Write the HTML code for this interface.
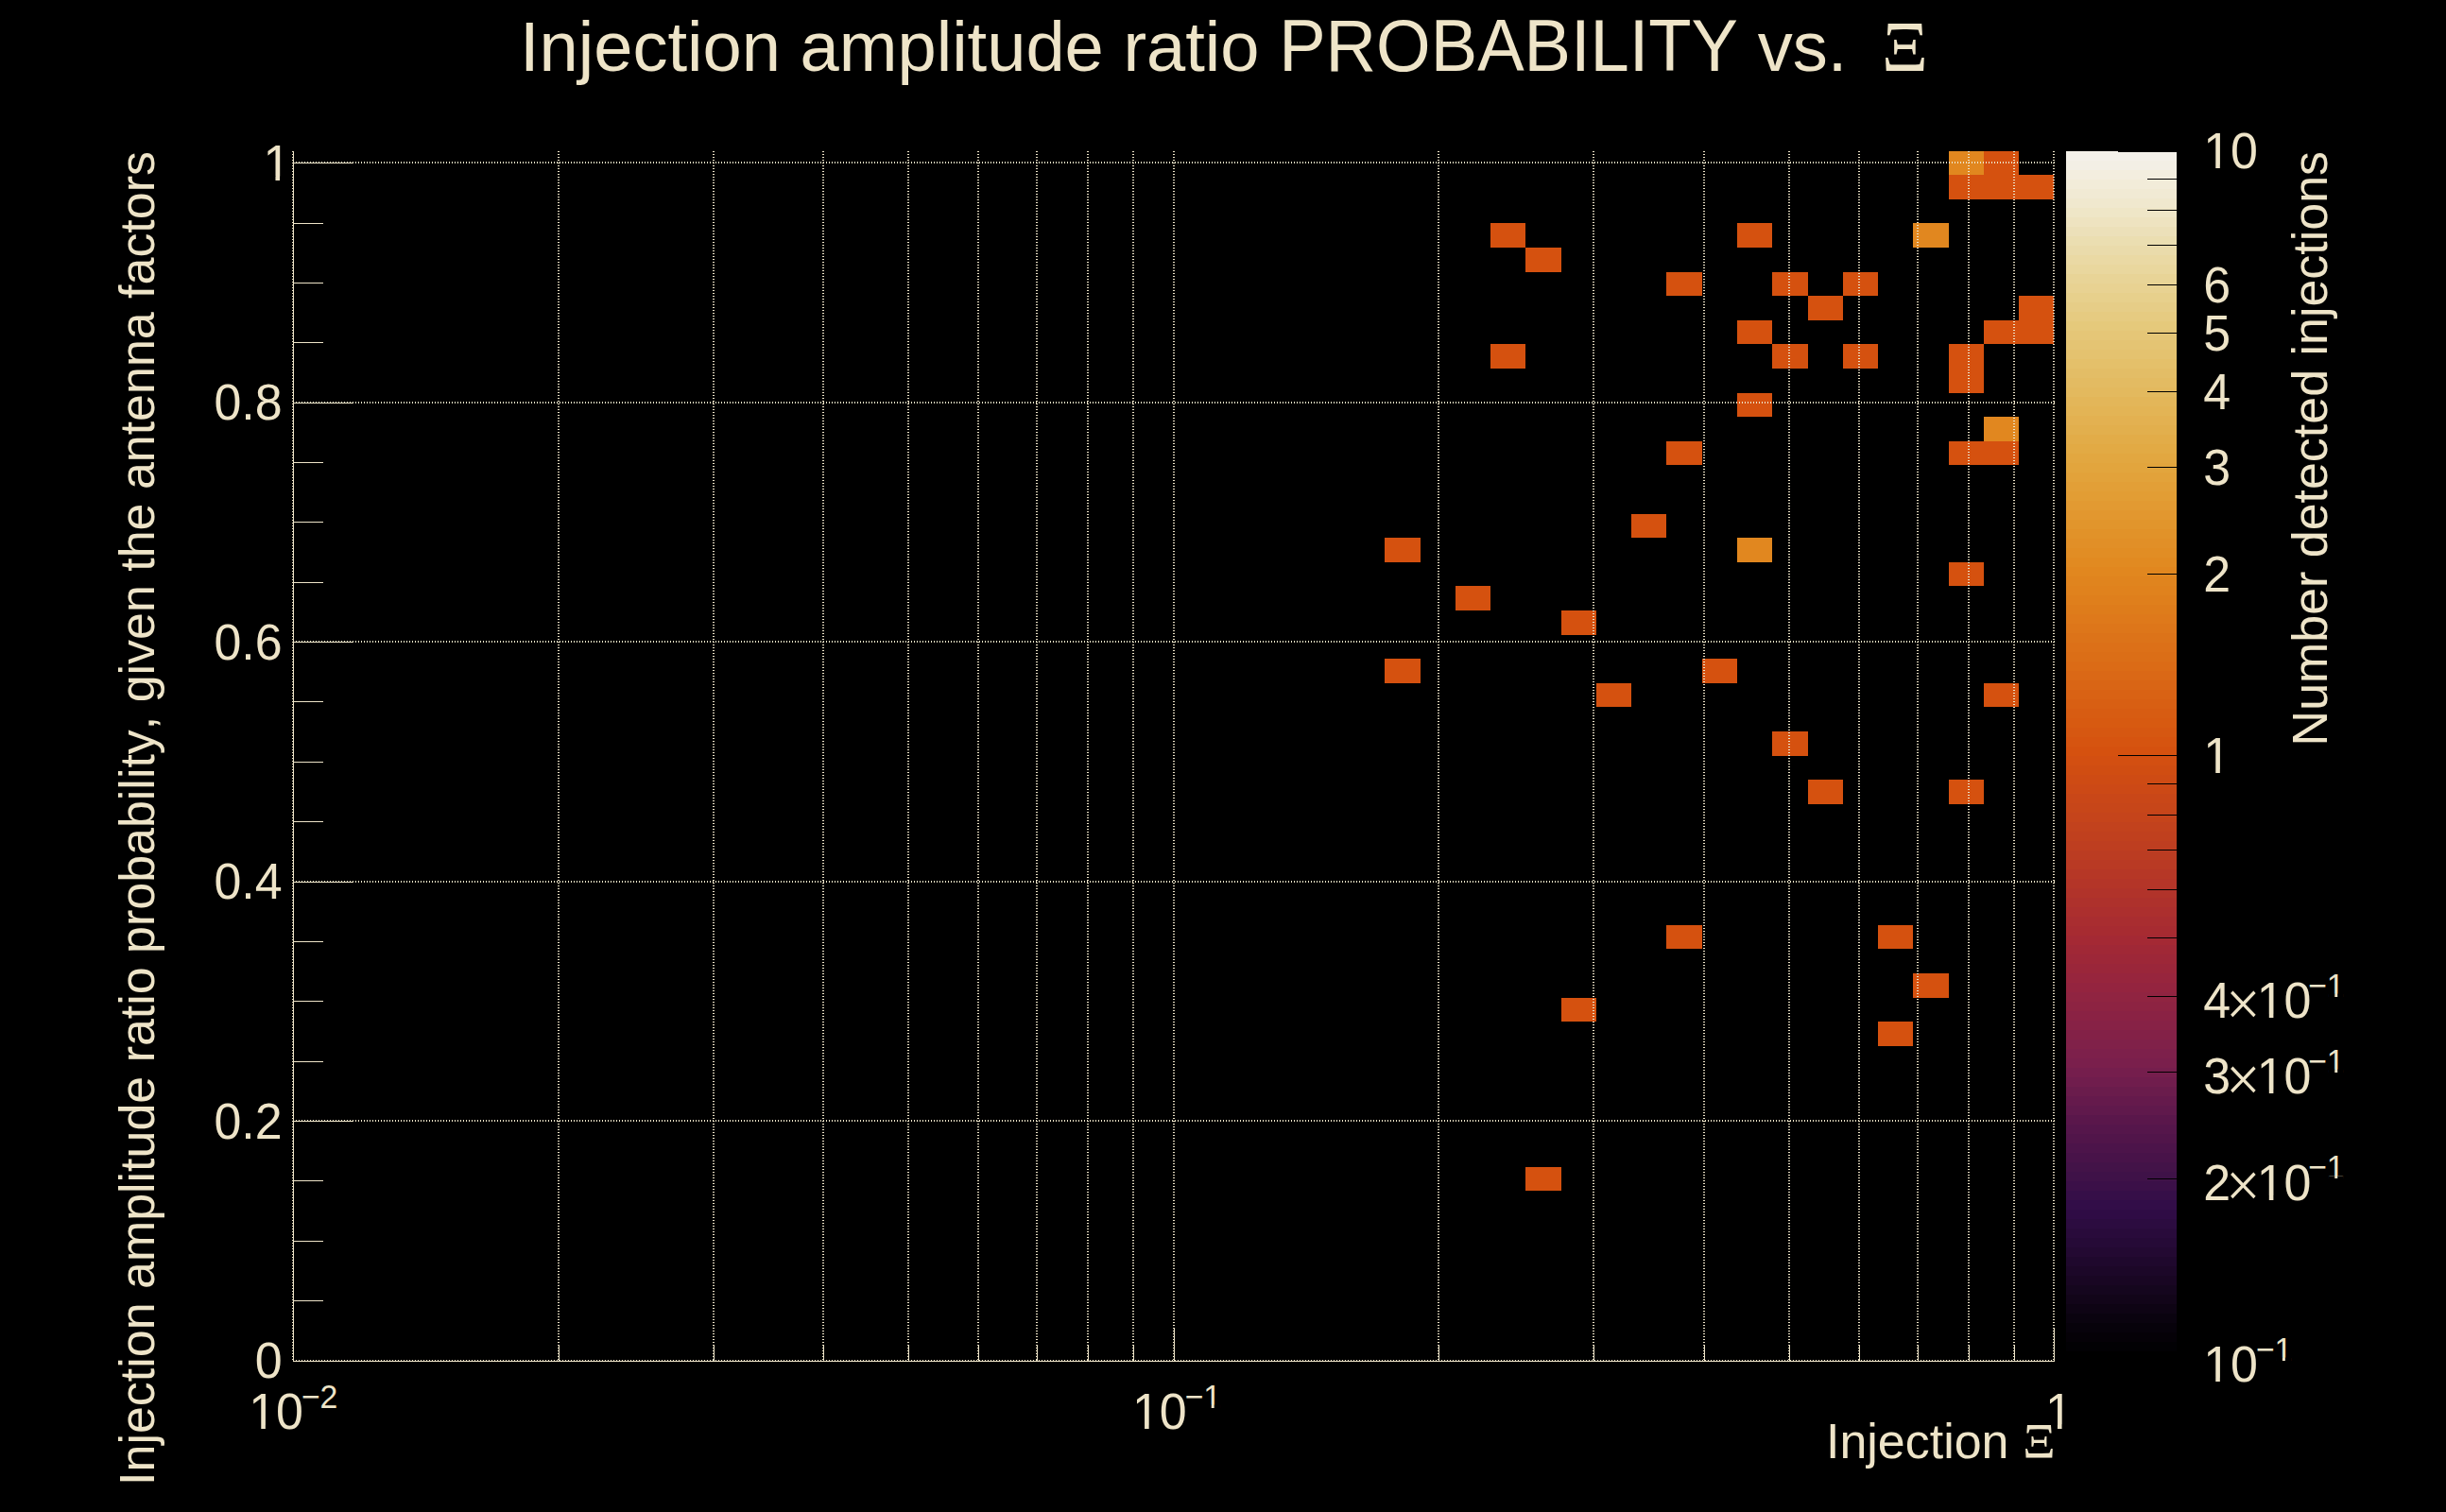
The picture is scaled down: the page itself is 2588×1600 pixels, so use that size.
<!DOCTYPE html>
<html><head><meta charset="utf-8"><title>Injection amplitude ratio PROBABILITY vs. Xi</title>
<style>
html,body{margin:0;padding:0;background:#000;}
body{width:2588px;height:1600px;overflow:hidden;}
svg{display:block;}
text{font-family:"Liberation Sans",sans-serif;fill:#EEE4C8;font-kerning:none;white-space:pre;}
.sym{font-family:"Liberation Serif",serif;}
.g{stroke:#EEE4C8;stroke-width:2;stroke-dasharray:1 2;fill:none;}
.a{stroke:#EEE4C8;stroke-width:1;fill:none;}
.k{stroke:#000;stroke-width:1;fill:none;}
</style></head><body>
<svg width="2588" height="1600" viewBox="0 0 2588 1600">
<rect width="2588" height="1600" fill="#000"/>
<g shape-rendering="crispEdges">
<rect x="2099" y="160" width="37" height="25" fill="#d5510f"/>
<rect x="2062" y="185" width="37" height="26" fill="#d5510f"/>
<rect x="2099" y="185" width="37" height="26" fill="#d5510f"/>
<rect x="2136" y="185" width="37" height="26" fill="#d5510f"/>
<rect x="1577" y="236" width="37" height="26" fill="#d5510f"/>
<rect x="1838" y="236" width="37" height="26" fill="#d5510f"/>
<rect x="1614" y="262" width="38" height="26" fill="#d5510f"/>
<rect x="1763" y="288" width="38" height="25" fill="#d5510f"/>
<rect x="1875" y="288" width="38" height="25" fill="#d5510f"/>
<rect x="1950" y="288" width="37" height="25" fill="#d5510f"/>
<rect x="1913" y="313" width="37" height="26" fill="#d5510f"/>
<rect x="2136" y="313" width="37" height="26" fill="#d5510f"/>
<rect x="2136" y="339" width="37" height="25" fill="#d5510f"/>
<rect x="1838" y="339" width="37" height="25" fill="#d5510f"/>
<rect x="2099" y="339" width="37" height="25" fill="#d5510f"/>
<rect x="1577" y="364" width="37" height="26" fill="#d5510f"/>
<rect x="1875" y="364" width="38" height="26" fill="#d5510f"/>
<rect x="1950" y="364" width="37" height="26" fill="#d5510f"/>
<rect x="2062" y="364" width="37" height="26" fill="#d5510f"/>
<rect x="2062" y="390" width="37" height="26" fill="#d5510f"/>
<rect x="1838" y="416" width="37" height="25" fill="#d5510f"/>
<rect x="1763" y="467" width="38" height="25" fill="#d5510f"/>
<rect x="2062" y="467" width="37" height="25" fill="#d5510f"/>
<rect x="2099" y="467" width="37" height="25" fill="#d5510f"/>
<rect x="1726" y="544" width="37" height="25" fill="#d5510f"/>
<rect x="1465" y="569" width="38" height="26" fill="#d5510f"/>
<rect x="2062" y="595" width="37" height="25" fill="#d5510f"/>
<rect x="1540" y="620" width="37" height="26" fill="#d5510f"/>
<rect x="1652" y="646" width="37" height="26" fill="#d5510f"/>
<rect x="1465" y="697" width="38" height="26" fill="#d5510f"/>
<rect x="1801" y="697" width="37" height="26" fill="#d5510f"/>
<rect x="1689" y="723" width="37" height="25" fill="#d5510f"/>
<rect x="2099" y="723" width="37" height="25" fill="#d5510f"/>
<rect x="1875" y="774" width="38" height="26" fill="#d5510f"/>
<rect x="1913" y="825" width="37" height="26" fill="#d5510f"/>
<rect x="2062" y="825" width="37" height="26" fill="#d5510f"/>
<rect x="1763" y="979" width="38" height="25" fill="#d5510f"/>
<rect x="1987" y="979" width="37" height="25" fill="#d5510f"/>
<rect x="2024" y="1030" width="38" height="26" fill="#d5510f"/>
<rect x="1652" y="1056" width="37" height="25" fill="#d5510f"/>
<rect x="1987" y="1081" width="37" height="26" fill="#d5510f"/>
<rect x="1614" y="1235" width="38" height="25" fill="#d5510f"/>
<rect x="2062" y="160" width="37" height="25" fill="#e1871f"/>
<rect x="2024" y="236" width="38" height="26" fill="#e1871f"/>
<rect x="2099" y="441" width="37" height="26" fill="#e1871f"/>
<rect x="1838" y="569" width="37" height="26" fill="#e1871f"/>
</g>
<g class="g" shape-rendering="crispEdges">
<line x1="310" y1="160" x2="310" y2="1440"/>
<line x1="591" y1="160" x2="591" y2="1440"/>
<line x1="755" y1="160" x2="755" y2="1440"/>
<line x1="871" y1="160" x2="871" y2="1440"/>
<line x1="961" y1="160" x2="961" y2="1440"/>
<line x1="1035" y1="160" x2="1035" y2="1440"/>
<line x1="1097" y1="160" x2="1097" y2="1440"/>
<line x1="1151" y1="160" x2="1151" y2="1440"/>
<line x1="1199" y1="160" x2="1199" y2="1440"/>
<line x1="1242" y1="160" x2="1242" y2="1440"/>
<line x1="1522" y1="160" x2="1522" y2="1440"/>
<line x1="1686" y1="160" x2="1686" y2="1440"/>
<line x1="1803" y1="160" x2="1803" y2="1440"/>
<line x1="1893" y1="160" x2="1893" y2="1440"/>
<line x1="1967" y1="160" x2="1967" y2="1440"/>
<line x1="2029" y1="160" x2="2029" y2="1440"/>
<line x1="2083" y1="160" x2="2083" y2="1440"/>
<line x1="2131" y1="160" x2="2131" y2="1440"/>
<line x1="2173" y1="160" x2="2173" y2="1440"/>
<line x1="310" y1="1440" x2="2174" y2="1440"/>
<line x1="310" y1="1186" x2="2174" y2="1186"/>
<line x1="310" y1="933" x2="2174" y2="933"/>
<line x1="310" y1="679" x2="2174" y2="679"/>
<line x1="310" y1="426" x2="2174" y2="426"/>
<line x1="310" y1="172" x2="2174" y2="172"/>
</g>
<g class="a" shape-rendering="crispEdges">
<line x1="310.5" y1="160" x2="310.5" y2="1441.0"/>
<line x1="310.0" y1="1440.5" x2="2174" y2="1440.5"/>
<line x1="310.5" y1="1376.5" x2="341.5" y2="1376.5"/>
<line x1="310.5" y1="1313.5" x2="341.5" y2="1313.5"/>
<line x1="310.5" y1="1249.5" x2="341.5" y2="1249.5"/>
<line x1="310.5" y1="1186.5" x2="373.5" y2="1186.5"/>
<line x1="310.5" y1="1123.5" x2="341.5" y2="1123.5"/>
<line x1="310.5" y1="1059.5" x2="341.5" y2="1059.5"/>
<line x1="310.5" y1="996.5" x2="341.5" y2="996.5"/>
<line x1="310.5" y1="933.5" x2="373.5" y2="933.5"/>
<line x1="310.5" y1="869.5" x2="341.5" y2="869.5"/>
<line x1="310.5" y1="806.5" x2="341.5" y2="806.5"/>
<line x1="310.5" y1="742.5" x2="341.5" y2="742.5"/>
<line x1="310.5" y1="679.5" x2="373.5" y2="679.5"/>
<line x1="310.5" y1="616.5" x2="341.5" y2="616.5"/>
<line x1="310.5" y1="552.5" x2="341.5" y2="552.5"/>
<line x1="310.5" y1="489.5" x2="341.5" y2="489.5"/>
<line x1="310.5" y1="426.5" x2="373.5" y2="426.5"/>
<line x1="310.5" y1="362.5" x2="341.5" y2="362.5"/>
<line x1="310.5" y1="299.5" x2="341.5" y2="299.5"/>
<line x1="310.5" y1="236.5" x2="341.5" y2="236.5"/>
<line x1="310.5" y1="172.5" x2="373.5" y2="172.5"/>
<line x1="591.5" y1="1440.5" x2="591.5" y2="1422.5"/>
<line x1="755.5" y1="1440.5" x2="755.5" y2="1422.5"/>
<line x1="871.5" y1="1440.5" x2="871.5" y2="1422.5"/>
<line x1="961.5" y1="1440.5" x2="961.5" y2="1422.5"/>
<line x1="1035.5" y1="1440.5" x2="1035.5" y2="1422.5"/>
<line x1="1097.5" y1="1440.5" x2="1097.5" y2="1422.5"/>
<line x1="1151.5" y1="1440.5" x2="1151.5" y2="1422.5"/>
<line x1="1199.5" y1="1440.5" x2="1199.5" y2="1422.5"/>
<line x1="1242.5" y1="1440.5" x2="1242.5" y2="1405.5"/>
<line x1="1522.5" y1="1440.5" x2="1522.5" y2="1422.5"/>
<line x1="1686.5" y1="1440.5" x2="1686.5" y2="1422.5"/>
<line x1="1803.5" y1="1440.5" x2="1803.5" y2="1422.5"/>
<line x1="1893.5" y1="1440.5" x2="1893.5" y2="1422.5"/>
<line x1="1967.5" y1="1440.5" x2="1967.5" y2="1422.5"/>
<line x1="2029.5" y1="1440.5" x2="2029.5" y2="1422.5"/>
<line x1="2083.5" y1="1440.5" x2="2083.5" y2="1422.5"/>
<line x1="2131.5" y1="1440.5" x2="2131.5" y2="1422.5"/>
<line x1="2173.5" y1="1440.5" x2="2173.5" y2="1405.5"/>
</g>
<g shape-rendering="crispEdges">
<rect x="2186" y="1430" width="117" height="10" fill="#000000"/>
<rect x="2186" y="1420" width="117" height="10" fill="#020104"/>
<rect x="2186" y="1410" width="117" height="10" fill="#050107"/>
<rect x="2186" y="1400" width="117" height="10" fill="#07020b"/>
<rect x="2186" y="1390" width="117" height="10" fill="#0a030f"/>
<rect x="2186" y="1380" width="117" height="10" fill="#0e0414"/>
<rect x="2186" y="1370" width="117" height="10" fill="#120519"/>
<rect x="2186" y="1360" width="117" height="10" fill="#15061e"/>
<rect x="2186" y="1350" width="117" height="10" fill="#190623"/>
<rect x="2186" y="1340" width="117" height="10" fill="#1c0728"/>
<rect x="2186" y="1330" width="117" height="10" fill="#1f082d"/>
<rect x="2186" y="1320" width="117" height="10" fill="#230932"/>
<rect x="2186" y="1310" width="117" height="10" fill="#260a37"/>
<rect x="2186" y="1300" width="117" height="10" fill="#290b3b"/>
<rect x="2186" y="1290" width="117" height="10" fill="#2c0c40"/>
<rect x="2186" y="1280" width="117" height="10" fill="#2f0c45"/>
<rect x="2186" y="1270" width="117" height="10" fill="#320d48"/>
<rect x="2186" y="1260" width="117" height="10" fill="#360f48"/>
<rect x="2186" y="1250" width="117" height="10" fill="#3b1048"/>
<rect x="2186" y="1240" width="117" height="10" fill="#3f1248"/>
<rect x="2186" y="1230" width="117" height="10" fill="#431348"/>
<rect x="2186" y="1220" width="117" height="10" fill="#481349"/>
<rect x="2186" y="1210" width="117" height="10" fill="#4c144a"/>
<rect x="2186" y="1200" width="117" height="10" fill="#51154a"/>
<rect x="2186" y="1190" width="117" height="10" fill="#55164b"/>
<rect x="2186" y="1180" width="117" height="10" fill="#5a174b"/>
<rect x="2186" y="1170" width="117" height="10" fill="#60194c"/>
<rect x="2186" y="1160" width="117" height="10" fill="#651a4c"/>
<rect x="2186" y="1150" width="117" height="10" fill="#6a1c4c"/>
<rect x="2186" y="1140" width="117" height="10" fill="#701d4d"/>
<rect x="2186" y="1130" width="117" height="10" fill="#751e4d"/>
<rect x="2186" y="1120" width="117" height="10" fill="#7a1f4c"/>
<rect x="2186" y="1110" width="117" height="10" fill="#7d204b"/>
<rect x="2186" y="1100" width="117" height="10" fill="#802149"/>
<rect x="2186" y="1090" width="117" height="10" fill="#832147"/>
<rect x="2186" y="1080" width="117" height="10" fill="#872246"/>
<rect x="2186" y="1070" width="117" height="10" fill="#8a2244"/>
<rect x="2186" y="1060" width="117" height="10" fill="#8d2342"/>
<rect x="2186" y="1050" width="117" height="10" fill="#902441"/>
<rect x="2186" y="1040" width="117" height="10" fill="#94243f"/>
<rect x="2186" y="1030" width="117" height="10" fill="#97253d"/>
<rect x="2186" y="1020" width="117" height="10" fill="#9a263a"/>
<rect x="2186" y="1010" width="117" height="10" fill="#9d2738"/>
<rect x="2186" y="1000" width="117" height="10" fill="#a02836"/>
<rect x="2186" y="990" width="117" height="10" fill="#a42934"/>
<rect x="2186" y="980" width="117" height="10" fill="#a72b31"/>
<rect x="2186" y="970" width="117" height="10" fill="#a92d30"/>
<rect x="2186" y="960" width="117" height="10" fill="#ac2f2e"/>
<rect x="2186" y="950" width="117" height="10" fill="#ae312c"/>
<rect x="2186" y="940" width="117" height="10" fill="#b1332a"/>
<rect x="2186" y="930" width="117" height="10" fill="#b43528"/>
<rect x="2186" y="920" width="117" height="10" fill="#b63726"/>
<rect x="2186" y="910" width="117" height="10" fill="#b93a24"/>
<rect x="2186" y="900" width="117" height="10" fill="#bb3c22"/>
<rect x="2186" y="890" width="117" height="10" fill="#be3e20"/>
<rect x="2186" y="880" width="117" height="10" fill="#c0401e"/>
<rect x="2186" y="870" width="117" height="10" fill="#c2421d"/>
<rect x="2186" y="860" width="117" height="10" fill="#c5441b"/>
<rect x="2186" y="850" width="117" height="10" fill="#c74619"/>
<rect x="2186" y="840" width="117" height="10" fill="#c94718"/>
<rect x="2186" y="830" width="117" height="10" fill="#cc4916"/>
<rect x="2186" y="820" width="117" height="10" fill="#ce4b14"/>
<rect x="2186" y="810" width="117" height="10" fill="#d04d12"/>
<rect x="2186" y="800" width="117" height="10" fill="#d34f11"/>
<rect x="2186" y="790" width="117" height="10" fill="#d5510f"/>
<rect x="2186" y="780" width="117" height="10" fill="#d65410"/>
<rect x="2186" y="770" width="117" height="10" fill="#d65711"/>
<rect x="2186" y="760" width="117" height="10" fill="#d75a11"/>
<rect x="2186" y="750" width="117" height="10" fill="#d75c12"/>
<rect x="2186" y="740" width="117" height="10" fill="#d85f13"/>
<rect x="2186" y="730" width="117" height="10" fill="#d96214"/>
<rect x="2186" y="720" width="117" height="10" fill="#d96515"/>
<rect x="2186" y="710" width="117" height="10" fill="#da6816"/>
<rect x="2186" y="700" width="117" height="10" fill="#db6b16"/>
<rect x="2186" y="690" width="117" height="10" fill="#db6e17"/>
<rect x="2186" y="680" width="117" height="10" fill="#dc7018"/>
<rect x="2186" y="670" width="117" height="10" fill="#dc7319"/>
<rect x="2186" y="660" width="117" height="10" fill="#dd761a"/>
<rect x="2186" y="650" width="117" height="10" fill="#de791b"/>
<rect x="2186" y="640" width="117" height="10" fill="#de7c1b"/>
<rect x="2186" y="630" width="117" height="10" fill="#df7f1c"/>
<rect x="2186" y="620" width="117" height="10" fill="#e0821d"/>
<rect x="2186" y="610" width="117" height="10" fill="#e0841e"/>
<rect x="2186" y="600" width="117" height="10" fill="#e1871f"/>
<rect x="2186" y="590" width="117" height="10" fill="#e18a21"/>
<rect x="2186" y="580" width="117" height="10" fill="#e18d24"/>
<rect x="2186" y="570" width="117" height="10" fill="#e18f27"/>
<rect x="2186" y="560" width="117" height="10" fill="#e19229"/>
<rect x="2186" y="550" width="117" height="10" fill="#e1952c"/>
<rect x="2186" y="540" width="117" height="10" fill="#e2972f"/>
<rect x="2186" y="530" width="117" height="10" fill="#e29a32"/>
<rect x="2186" y="520" width="117" height="10" fill="#e29d34"/>
<rect x="2186" y="510" width="117" height="10" fill="#e29f37"/>
<rect x="2186" y="500" width="117" height="10" fill="#e2a23a"/>
<rect x="2186" y="490" width="117" height="10" fill="#e2a53d"/>
<rect x="2186" y="480" width="117" height="10" fill="#e2a740"/>
<rect x="2186" y="470" width="117" height="10" fill="#e2aa44"/>
<rect x="2186" y="460" width="117" height="10" fill="#e2ac48"/>
<rect x="2186" y="450" width="117" height="10" fill="#e2af4d"/>
<rect x="2186" y="440" width="117" height="10" fill="#e3b151"/>
<rect x="2186" y="430" width="117" height="10" fill="#e3b455"/>
<rect x="2186" y="420" width="117" height="10" fill="#e3b659"/>
<rect x="2186" y="410" width="117" height="10" fill="#e3b95e"/>
<rect x="2186" y="400" width="117" height="10" fill="#e3bb62"/>
<rect x="2186" y="390" width="117" height="10" fill="#e3bd66"/>
<rect x="2186" y="380" width="117" height="10" fill="#e4c06a"/>
<rect x="2186" y="370" width="117" height="10" fill="#e4c26f"/>
<rect x="2186" y="360" width="117" height="10" fill="#e4c473"/>
<rect x="2186" y="350" width="117" height="10" fill="#e5c677"/>
<rect x="2186" y="340" width="117" height="10" fill="#e5c97b"/>
<rect x="2186" y="330" width="117" height="10" fill="#e6cb81"/>
<rect x="2186" y="320" width="117" height="10" fill="#e6cd87"/>
<rect x="2186" y="310" width="117" height="10" fill="#e7d08c"/>
<rect x="2186" y="300" width="117" height="10" fill="#e8d292"/>
<rect x="2186" y="290" width="117" height="10" fill="#e8d497"/>
<rect x="2186" y="280" width="117" height="10" fill="#e9d79e"/>
<rect x="2186" y="270" width="117" height="10" fill="#ead9a4"/>
<rect x="2186" y="260" width="117" height="10" fill="#eadbab"/>
<rect x="2186" y="250" width="117" height="10" fill="#ebdeb1"/>
<rect x="2186" y="240" width="117" height="10" fill="#ece0b9"/>
<rect x="2186" y="230" width="117" height="10" fill="#eee3c0"/>
<rect x="2186" y="220" width="117" height="10" fill="#efe6c7"/>
<rect x="2186" y="210" width="117" height="10" fill="#f0e8ce"/>
<rect x="2186" y="200" width="117" height="10" fill="#f1ead4"/>
<rect x="2186" y="190" width="117" height="10" fill="#f2ecd9"/>
<rect x="2186" y="180" width="117" height="10" fill="#f3eedf"/>
<rect x="2186" y="170" width="117" height="10" fill="#f3efe5"/>
<rect x="2186" y="160" width="117" height="10" fill="#f4f1ea"/>
</g>
<g class="k" shape-rendering="crispEdges">
<line x1="2272" y1="1247.5" x2="2303" y2="1247.5"/>
<line x1="2272" y1="1134.5" x2="2303" y2="1134.5"/>
<line x1="2272" y1="1054.5" x2="2303" y2="1054.5"/>
<line x1="2272" y1="992.5" x2="2303" y2="992.5"/>
<line x1="2272" y1="941.5" x2="2303" y2="941.5"/>
<line x1="2272" y1="899.5" x2="2303" y2="899.5"/>
<line x1="2272" y1="862.5" x2="2303" y2="862.5"/>
<line x1="2272" y1="829.5" x2="2303" y2="829.5"/>
<line x1="2241" y1="799.5" x2="2303" y2="799.5"/>
<line x1="2272" y1="607.5" x2="2303" y2="607.5"/>
<line x1="2272" y1="494.5" x2="2303" y2="494.5"/>
<line x1="2272" y1="414.5" x2="2303" y2="414.5"/>
<line x1="2272" y1="352.5" x2="2303" y2="352.5"/>
<line x1="2272" y1="301.5" x2="2303" y2="301.5"/>
<line x1="2272" y1="259.5" x2="2303" y2="259.5"/>
<line x1="2272" y1="222.5" x2="2303" y2="222.5"/>
<line x1="2272" y1="189.5" x2="2303" y2="189.5"/>
<line x1="2241" y1="160.5" x2="2303" y2="160.5"/>
</g>
<text transform="matrix(1 0 0 1.03 0 1458.30)"><tspan x="269.71" y="0.00" font-size="51.94">0</tspan></text>
<text transform="matrix(1 0 0 1.03 0 1204.83)"><tspan x="226.40" y="0.00" font-size="51.94">0.2</tspan></text>
<text transform="matrix(1 0 0 1.03 0 951.37)"><tspan x="226.40" y="0.00" font-size="51.94">0.4</tspan></text>
<text transform="matrix(1 0 0 1.03 0 697.90)"><tspan x="226.40" y="0.00" font-size="51.94">0.6</tspan></text>
<text transform="matrix(1 0 0 1.03 0 444.44)"><tspan x="226.40" y="0.00" font-size="51.94">0.8</tspan></text>
<text transform="matrix(1 0 0 1.03 0 190.97)"><tspan x="278.41" y="0.00" font-size="51.94">1</tspan></text>
<text transform="matrix(1 0 0 1.03 0 1512.30)"><tspan x="263.20" y="0.00" font-size="51.94">10</tspan><tspan x="318.67" y="-22.04" font-size="33.8">−2</tspan></text>
<text transform="matrix(1 0 0 1.03 0 1512.30)"><tspan x="1198.00" y="0.00" font-size="51.94">10</tspan><tspan x="1253.47" y="-22.04" font-size="33.8">−1</tspan></text>
<text transform="matrix(1 0 0 1.03 0 1511.90)"><tspan x="2163.90" y="0.00" font-size="51.94">1</tspan></text>
<text transform="matrix(1 0 0 1.03 0 178.30)"><tspan x="2331.20" y="0.00" font-size="51.94">10</tspan></text>
<text transform="matrix(1 0 0 1.03 0 320.28)"><tspan x="2331.20" y="0.00" font-size="51.94">6</tspan></text>
<text transform="matrix(1 0 0 1.03 0 370.96)"><tspan x="2331.20" y="0.00" font-size="51.94">5</tspan></text>
<text transform="matrix(1 0 0 1.03 0 432.98)"><tspan x="2331.20" y="0.00" font-size="51.94">4</tspan></text>
<text transform="matrix(1 0 0 1.03 0 512.94)"><tspan x="2331.20" y="0.00" font-size="51.94">3</tspan></text>
<text transform="matrix(1 0 0 1.03 0 625.64)"><tspan x="2331.20" y="0.00" font-size="51.94">2</tspan></text>
<text transform="matrix(1 0 0 1.03 0 818.30)"><tspan x="2331.20" y="0.00" font-size="51.94">1</tspan></text>
<text transform="matrix(1 0 0 1.03 0 1077.28)"><tspan x="2331.20" y="0.00" font-size="51.94">4</tspan><tspan class="sym" x="2354.89" y="7.09" font-size="65">×</tspan><tspan x="2387.74" y="0.00" font-size="51.94">10</tspan><tspan x="2442.02" y="-22.04" font-size="33.8">−1</tspan></text>
<text transform="matrix(1 0 0 1.03 0 1157.24)"><tspan x="2331.20" y="0.00" font-size="51.94">3</tspan><tspan class="sym" x="2354.89" y="7.09" font-size="65">×</tspan><tspan x="2387.74" y="0.00" font-size="51.94">10</tspan><tspan x="2442.02" y="-22.04" font-size="33.8">−1</tspan></text>
<text transform="matrix(1 0 0 1.03 0 1269.94)"><tspan x="2331.20" y="0.00" font-size="51.94">2</tspan><tspan class="sym" x="2354.89" y="7.09" font-size="65">×</tspan><tspan x="2387.74" y="0.00" font-size="51.94">10</tspan><tspan x="2442.02" y="-22.04" font-size="33.8">−1</tspan></text>
<text transform="matrix(1 0 0 1.03 0 1462.20)"><tspan x="2331.20" y="0.00" font-size="51.94">10</tspan><tspan x="2386.67" y="-22.04" font-size="33.8">−1</tspan></text>
<rect x="280.95" y="186.68" width="10.52" height="5.00" fill="#000"/>
<rect x="296.06" y="186.68" width="10.12" height="5.00" fill="#000"/>
<rect x="265.74" y="1508.00" width="10.52" height="5.00" fill="#000"/>
<rect x="280.85" y="1508.00" width="10.12" height="5.00" fill="#000"/>
<rect x="1200.54" y="1508.00" width="10.52" height="5.00" fill="#000"/>
<rect x="1215.65" y="1508.00" width="10.12" height="5.00" fill="#000"/>
<rect x="1274.86" y="1486.70" width="6.85" height="3.60" fill="#000"/>
<rect x="1284.70" y="1486.70" width="6.59" height="3.60" fill="#000"/>
<rect x="2166.44" y="1507.60" width="10.52" height="5.00" fill="#000"/>
<rect x="2181.55" y="1507.60" width="10.12" height="5.00" fill="#000"/>
<rect x="2333.74" y="174.00" width="10.52" height="5.00" fill="#000"/>
<rect x="2348.85" y="174.00" width="10.12" height="5.00" fill="#000"/>
<rect x="2333.74" y="814.00" width="10.52" height="5.00" fill="#000"/>
<rect x="2348.85" y="814.00" width="10.12" height="5.00" fill="#000"/>
<rect x="2390.28" y="1072.98" width="10.52" height="5.00" fill="#000"/>
<rect x="2405.40" y="1072.98" width="10.12" height="5.00" fill="#000"/>
<rect x="2463.41" y="1051.68" width="6.85" height="3.60" fill="#000"/>
<rect x="2473.24" y="1051.68" width="6.59" height="3.60" fill="#000"/>
<rect x="2390.28" y="1152.95" width="10.52" height="5.00" fill="#000"/>
<rect x="2405.40" y="1152.95" width="10.12" height="5.00" fill="#000"/>
<rect x="2463.41" y="1131.64" width="6.85" height="3.60" fill="#000"/>
<rect x="2473.24" y="1131.64" width="6.59" height="3.60" fill="#000"/>
<rect x="2390.28" y="1265.64" width="10.52" height="5.00" fill="#000"/>
<rect x="2405.40" y="1265.64" width="10.12" height="5.00" fill="#000"/>
<rect x="2463.41" y="1244.34" width="6.85" height="3.60" fill="#000"/>
<rect x="2473.24" y="1244.34" width="6.59" height="3.60" fill="#000"/>
<rect x="2333.74" y="1457.90" width="10.52" height="5.00" fill="#000"/>
<rect x="2348.85" y="1457.90" width="10.12" height="5.00" fill="#000"/>
<rect x="2408.06" y="1436.60" width="6.85" height="3.60" fill="#000"/>
<rect x="2417.90" y="1436.60" width="6.59" height="3.60" fill="#000"/>
<text x="550.00" y="75.10" font-size="74.1">Injection amplitude ratio </text>
<text transform="matrix(1 0 0 1.058 1353.20 75.10)" font-size="74.1">PROBABILITY</text>
<text x="1839.12" y="75.10" font-size="74.1"> vs.</text>
<text class="sym" x="1990.9" y="75.1" font-size="76">Ξ</text>
<text x="1932.00" y="1543.30" font-size="51.94">Injection</text>
<text class="sym" x="2140.3" y="1543.3" font-size="53.5">Ξ</text>
<g transform="translate(162.8,160.0) rotate(-90)"><text x="-1411.89" y="0.00" font-size="51.94">Injection amplitude ratio probability, given the antenna factors</text></g>
<g transform="translate(2462.2,160.0) rotate(-90)"><text x="-629.39" y="0.00" font-size="51.94">Number detected injections</text></g>
</svg></body></html>
